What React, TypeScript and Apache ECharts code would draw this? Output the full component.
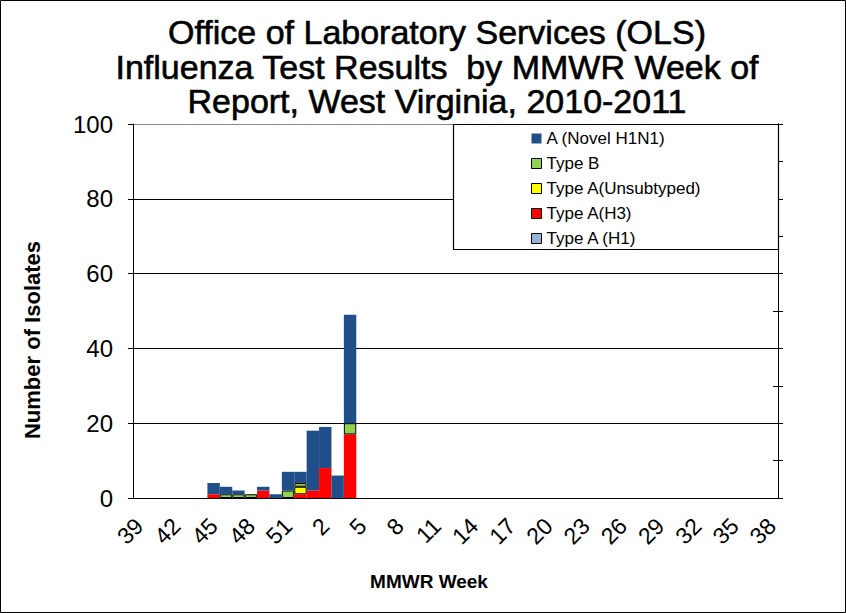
import React, { useEffect, useRef } from "react";
import * as echarts from "echarts";

const weeks: string[] = [
  "39","40","41","42","43","44","45","46","47","48","49","50","51","52",
  "1","2","3","4","5","6","7","8","9","10","11","12","13","14","15","16","17","18","19","20",
  "21","22","23","24","25","26","27","28","29","30","31","32","33","34","35","36","37","38",
];

// values for weeks 45..4 (index 6..17); remaining weeks are zero
const novelH1N1Part = [3, 2, 1, 0, 1, 1, 5, 3, 16, 11, 6, 29];
const typeBPart = [0, 1, 1, 1, 0, 0, 2, 1, 0, 0, 0, 3];
const unsubtypedPart = [0, 0, 0, 0, 0, 0, 0, 2, 0, 0, 0, 0];
const h3Part = [1, 0, 0, 0, 2, 0, 0, 1, 2, 8, 0, 17];
const h1Part = [0, 0, 0, 0, 0, 0, 0, 0, 0, 0, 0, 0];

const pad = (part: number[]) => {
  const out: (number | null)[] = [];
  for (let i = 0; i < weeks.length; i++) {
    const v = i >= 6 && i < 6 + part.length ? part[i - 6] : 0;
    out.push(v === 0 ? null : v);
  }
  return out;
};

const FONT = "Liberation Sans, Arial, sans-serif";

export default function App() {
  const ref = useRef<HTMLDivElement>(null);
  useEffect(() => {
    document.body.style.margin = "0";
    if (!ref.current) return;
    const chart = echarts.init(ref.current, undefined, { renderer: "svg" });
    const bordered = { borderColor: "#000", borderWidth: 1 };
    const seriesDefs = [
      { name: "Type A (H1)", data: h1Part, color: "#95B3D7", border: true },
      { name: "Type A(H3)", data: h3Part, color: "#FF0000", border: false },
      { name: "Type A(Unsubtyped)", data: unsubtypedPart, color: "#FFFF00", border: true },
      { name: "Type B", data: typeBPart, color: "#92D050", border: true },
      { name: "A (Novel H1N1)", data: novelH1N1Part, color: "#1F4E89", border: false },
    ];
    const legendOrder = ["A (Novel H1N1)", "Type B", "Type A(Unsubtyped)", "Type A(H3)", "Type A (H1)"];
    chart.setOption({
      animation: false,
      textStyle: { fontFamily: FONT },
      grid: { left: 133, right: 68, top: 124, bottom: 115, containLabel: false },
      legend: {
        orient: "vertical",
        left: 531,
        top: 130,
        itemWidth: 10,
        itemHeight: 10,
        itemGap: 8,
        padding: 0,
        icon: "rect",
        selectedMode: false,
        textStyle: { fontSize: 17, lineHeight: 17, color: "#000", fontFamily: FONT },
        data: legendOrder.map((n) => ({
          name: n,
          itemStyle: n === "A (Novel H1N1)" ? { borderWidth: 0 } : { borderColor: "#000", borderWidth: 1 },
        })),
        z: 10,
      },
      xAxis: {
        type: "category",
        data: weeks,
        boundaryGap: true,
        axisLine: { lineStyle: { color: "#000", width: 1 } },
        axisTick: { interval: 0, length: 7, lineStyle: { color: "#000" } },
        axisLabel: { interval: 2, rotate: 45, fontSize: 23, color: "#000", margin: 24, fontFamily: FONT },
      },
      yAxis: [
        {
          type: "value",
          min: 0,
          max: 100,
          interval: 20,
          axisLine: { show: true, lineStyle: { color: "#000" } },
          axisTick: { show: true, length: 5, lineStyle: { color: "#000" } },
          axisLabel: { fontSize: 24, color: "#000", margin: 20, fontFamily: FONT },
          splitLine: { show: true, lineStyle: { color: ["#000", "#000", "#000", "#000", "#000", "#888"], width: 1 } },
        },
        {
          type: "value",
          position: "right",
          min: 0,
          max: 100,
          interval: 10,
          axisLine: { show: true, lineStyle: { color: "#000" } },
          axisTick: { show: true, length: 5, inside: false, lineStyle: { color: "#000" } },
          axisLabel: { show: false },
          splitLine: { show: false },
        },
        {
          type: "value",
          position: "right",
          min: 0,
          max: 100,
          interval: 10,
          axisLine: { show: true, lineStyle: { color: "#000" } },
          axisTick: { show: true, length: 5, inside: true, lineStyle: { color: "#000" } },
          axisLabel: { show: false },
          splitLine: { show: false },
        },
      ],
      series: seriesDefs.map((s) => ({
        name: s.name,
        type: "bar",
        stack: "total",
        data: pad(s.data),
        barCategoryGap: "0%",
        itemStyle: s.border ? { color: s.color, ...bordered } : { color: s.color, borderWidth: 0 },
        emphasis: { disabled: true },
      })),
      graphic: [
        {
          type: "rect",
          shape: { x: 0.5, y: 0.5, width: 845, height: 612 },
          style: { fill: "none", stroke: "#000", lineWidth: 1 },
          z: 1,
        },
        {
          type: "rect",
          shape: { x: 453.5, y: 124.5, width: 325, height: 125 },
          style: { fill: "#fff", stroke: "#000", lineWidth: 1.2 },
          z: 5,
        },
        {
          type: "text",
          x: 437,
          y: 15,
          style: {
            text: "Office of Laboratory Services (OLS)\nInfluenza Test Results  by MMWR Week of\nReport, West Virginia, 2010-2011",
            font: `34px ${FONT}`,
            lineHeight: 34.5,
            fill: "#000",
            stroke: "#000",
            lineWidth: 0.6,
            textAlign: "center",
            textVerticalAlign: "top",
          },
        },
        {
          type: "text",
          x: 32,
          y: 340,
          rotation: Math.PI / 2,
          style: {
            text: "Number of Isolates",
            font: `bold 22px ${FONT}`,
            fill: "#000",
            textAlign: "center",
            textVerticalAlign: "middle",
          },
        },
        {
          type: "text",
          x: 429,
          y: 581,
          style: {
            text: "MMWR Week",
            font: `bold 19px ${FONT}`,
            fill: "#000",
            textAlign: "center",
            textVerticalAlign: "middle",
          },
        },
      ],
    });
    return () => chart.dispose();
  }, []);
  return <div ref={ref} style={{ width: 846, height: 613 }} />;
}
